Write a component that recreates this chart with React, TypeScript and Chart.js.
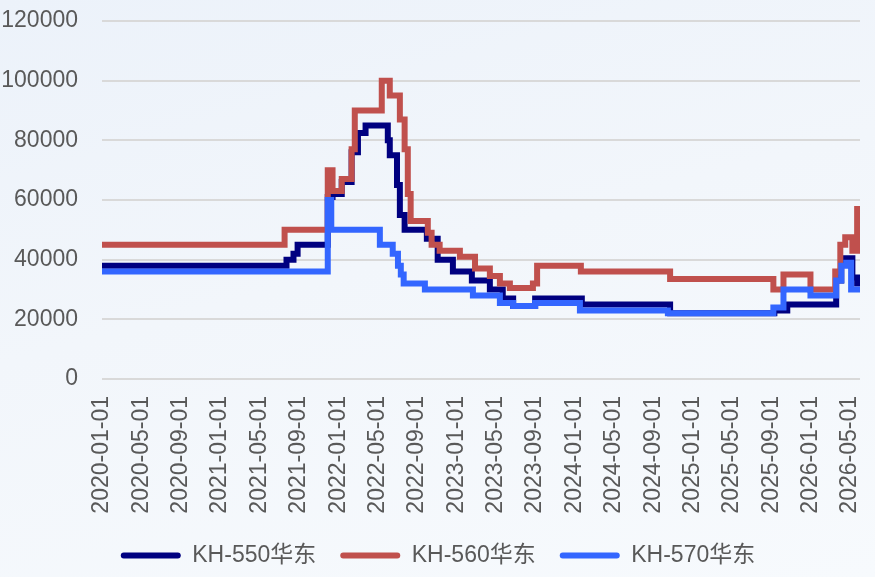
import { useEffect, useRef } from 'react';
import { Chart, registerables } from 'chart.js';

Chart.register(...registerables);

const seriesNames = ['KH-550华东', 'KH-560华东', 'KH-570华东'];
const seriesColors = ['#000080', '#C0504D', '#3366FF'];

const kh550Dates = ['2020-01-01', '2021-07-24', '2021-08-15', '2021-08-28', '2021-11-29', '2021-12-14', '2022-01-12', '2022-02-11', '2022-03-01', '2022-03-25', '2022-06-02', '2022-06-08', '2022-06-30', '2022-07-09', '2022-07-24', '2022-10-01', '2022-11-04', '2022-12-21', '2023-02-17', '2023-04-13', '2023-05-23', '2023-06-24', '2023-09-01', '2024-01-24', '2024-10-23', '2025-09-10', '2025-10-20', '2026-03-19', '2026-04-04', '2026-05-08', '2026-05-23', '2026-06-01'];
const kh550Values = [38000, 40000, 42000, 45000, 61000, 62000, 66000, 76000, 82500, 85000, 80000, 75000, 65000, 55000, 50000, 47000, 40000, 36000, 33000, 30000, 27000, 24500, 27000, 25000, 22000, 23000, 25000, 33000, 40500, 34000, 32000, 32000];

const kh560Dates = ['2020-01-01', '2021-07-18', '2021-11-29', '2021-12-14', '2022-01-12', '2022-02-11', '2022-02-20', '2022-05-14', '2022-06-08', '2022-07-09', '2022-07-24', '2022-08-03', '2022-08-12', '2022-10-04', '2022-10-16', '2022-11-10', '2023-01-12', '2023-02-26', '2023-04-13', '2023-05-14', '2023-06-14', '2023-08-25', '2023-09-07', '2024-01-21', '2024-10-23', '2025-09-07', '2025-10-08', '2025-12-31', '2026-03-16', '2026-04-01', '2026-04-16', '2026-05-08', '2026-05-23', '2026-06-01'];
const kh560Values = [45000, 50000, 70000, 63000, 67000, 77000, 90000, 100000, 95000, 87000, 77000, 62000, 53000, 49000, 45000, 43000, 41000, 37000, 34500, 32000, 30500, 32000, 38000, 36000, 33500, 30000, 35000, 30000, 36000, 45000, 47500, 43000, 57000, 57000];

const kh570Dates = ['2020-01-01', '2021-11-29', '2021-12-10', '2022-05-08', '2022-06-17', '2022-07-03', '2022-07-12', '2022-07-21', '2022-09-25', '2023-02-20', '2023-05-14', '2023-06-24', '2023-09-01', '2024-01-18', '2024-10-16', '2025-09-07', '2025-10-08', '2025-12-31', '2026-03-19', '2026-04-04', '2026-04-19', '2026-05-04', '2026-06-01'];
const kh570Values = [36000, 60000, 50000, 45000, 42000, 38000, 35000, 32000, 30000, 28000, 25500, 24500, 25500, 23000, 22000, 24000, 30000, 28000, 33000, 38000, 39000, 30000, 30000];

const yTicks = [0, 20000, 40000, 60000, 80000, 100000, 120000];

// months since 2020-01-01, fractional by day
function toMonth(d: string) {
    const [y, m, day] = d.split('-').map(Number);
    const dim = new Date(y, m, 0).getDate();
    return (y - 2020) * 12 + (m - 1) + (day - 1) / dim;
}

function monthLabel(v: number) {
    const y = 2020 + Math.floor(v / 12);
    const m = (v % 12) + 1;
    return `${y}-${String(m).padStart(2, '0')}-01`;
}

const FONT = "'Liberation Sans', Arial, 'Noto Sans CJK SC', sans-serif";

// nudge the legend a bit to the right, like the original
const legendShift = {
    id: 'legendShift',
    afterLayout(c: any) {
        if (!c.legend) return;
        c.legend.left += 8;
        c.legend.right += 8;
    }
};

export default function App() {
    const canvasRef = useRef<HTMLCanvasElement>(null);
    useEffect(() => {
        if (canvasRef.current === null) return;
        const ctx = canvasRef.current.getContext('2d');
        if (ctx === null) return;
        const allDates = [kh550Dates, kh560Dates, kh570Dates];
        const allValues = [kh550Values, kh560Values, kh570Values];
        const chart = new Chart(ctx, {
            type: 'line',
            data: {
                datasets: seriesNames.map((name, i) => ({
                    label: name,
                    data: allDates[i].map((d, j) => ({ x: toMonth(d), y: allValues[i][j] })),
                    borderColor: seriesColors[i],
                    backgroundColor: seriesColors[i],
                    borderWidth: 6,
                    pointRadius: 0,
                    stepped: true,
                    fill: false,
                    // later series drawn on top, as in the original
                    order: seriesNames.length - i,
                }))
            },
            options: {
                animation: false,
                responsive: false,
                layout: { autoPadding: false, padding: { top: 21, right: 15, bottom: 0, left: 0 } },
                plugins: {
                    tooltip: { enabled: false },
                    legend: {
                        position: 'bottom',
                        labels: {
                            boxWidth: 60,
                            boxHeight: 6,
                            padding: 24,
                            color: '#595959',
                            font: { family: FONT, size: 23 },
                            useBorderRadius: true,
                            borderRadius: 3,
                            sort: (a: any, b: any) => a.datasetIndex - b.datasetIndex,
                            generateLabels: (c: Chart) =>
                                Chart.defaults.plugins.legend.labels.generateLabels(c).map((it) => ({ ...it, lineWidth: 0 })),
                        }
                    }
                },
                scales: {
                    x: {
                        type: 'linear',
                        min: 0,
                        max: toMonth('2026-06-01'),
                        grid: { display: false, drawTicks: false },
                        border: { display: false },
                        afterFit: (s: any) => {
                            s.height = 141;
                            s.paddingLeft = 0; s.paddingRight = 0; s.paddingTop = 0; s.paddingBottom = 0;
                        },
                        ticks: {
                            stepSize: 4,
                            includeBounds: false,
                            autoSkip: false,
                            minRotation: 90,
                            maxRotation: 90,
                            padding: 17,
                            color: '#595959',
                            font: { family: FONT, size: 23 },
                            callback: (v: any) => monthLabel(Number(v)),
                        }
                    },
                    y: {
                        min: 0,
                        max: 120000,
                        afterFit: (s: any) => {
                            s.width = 102;
                            s.paddingLeft = 0; s.paddingRight = 0; s.paddingTop = 0; s.paddingBottom = 0;
                        },
                        afterBuildTicks: (s: any) => { s.ticks = yTicks.map((v) => ({ value: v })); },
                        grid: { color: '#D9D9D9', lineWidth: 2, drawTicks: false },
                        border: { display: false },
                        ticks: {
                            padding: 24,
                            color: '#595959',
                            font: { family: FONT, size: 23 },
                            callback: (v: any) => String(v),
                        }
                    }
                }
            },
            plugins: [legendShift]
        });
        return () => {
            chart.destroy();
        };
    }, []);

    return (
        <div style={{
            position: 'fixed', left: 0, top: 0, width: 875, height: 577,
            background: 'linear-gradient(165deg, #ECF2FA 0%, #F2F6FB 45%, #F7FAFD 100%)'
        }}>
            <canvas ref={canvasRef} width={875} height={577}></canvas>
        </div>
    );
}
